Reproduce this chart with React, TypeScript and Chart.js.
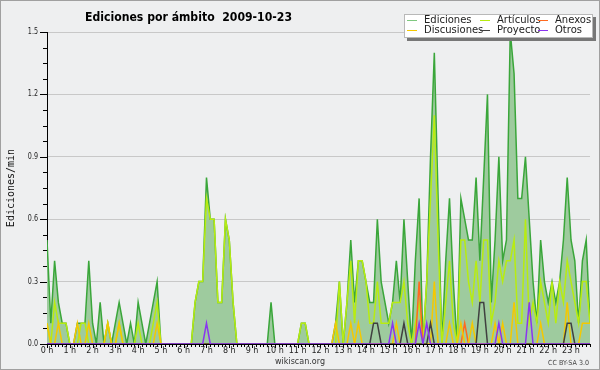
import React, { useEffect, useRef } from "react";
import { Chart, registerables } from "chart.js";

Chart.register(...registerables);

// 10-minute bins (0..143), values in edits per minute
const ediciones = [
  0.5, 0.1, 0.4, 0.2, 0.1, 0.1, 0, 0, 0.1, 0.1, 0.1, 0.4,
  0.1, 0, 0.2, 0, 0.1, 0, 0.1, 0.2, 0.1, 0, 0.1, 0,
  0.2, 0.1, 0, 0.1, 0.2, 0.3, 0, 0, 0, 0, 0, 0,
  0, 0, 0, 0.2, 0.3, 0.3, 0.8, 0.6, 0.6, 0.2, 0.2, 0.6,
  0.5, 0.2, 0, 0, 0, 0, 0, 0, 0, 0, 0, 0.2,
  0, 0, 0, 0, 0, 0, 0, 0.1, 0.1, 0, 0, 0,
  0, 0, 0, 0, 0.1, 0.3, 0, 0.2, 0.5, 0.2, 0.4, 0.4,
  0.3, 0.2, 0.2, 0.6, 0.3, 0.2, 0.1, 0.2, 0.4, 0.2, 0.6, 0.3,
  0, 0.4, 0.7, 0, 0.3, 0.9, 1.4, 0.7, 0, 0.4, 0.7, 0.3,
  0, 0.7, 0.6, 0.5, 0.5, 0.8, 0.4, 0.8, 1.2, 0.2, 0.5, 0.9,
  0.4, 0.5, 1.5, 1.3, 0.7, 0.7, 0.9, 0.6, 0.3, 0.1, 0.5, 0.3,
  0.2, 0.3, 0.2, 0.3, 0.5, 0.8, 0.5, 0.4, 0.1, 0.4, 0.5, 0.1,
];

const articulos = [
  0.1, 0, 0.2, 0.1, 0.1, 0.1, 0, 0, 0, 0.1, 0.1, 0,
  0, 0, 0, 0, 0.1, 0, 0, 0.1, 0, 0, 0, 0,
  0.1, 0, 0, 0, 0.1, 0.2, 0, 0, 0, 0, 0, 0,
  0, 0, 0, 0.2, 0.3, 0.3, 0.7, 0.6, 0.6, 0.2, 0.2, 0.6,
  0.5, 0.2, 0, 0, 0, 0, 0, 0, 0, 0, 0, 0,
  0, 0, 0, 0, 0, 0, 0, 0.1, 0.1, 0, 0, 0,
  0, 0, 0, 0, 0, 0.3, 0, 0.2, 0.4, 0.1, 0.4, 0.4,
  0.3, 0.1, 0.1, 0.3, 0.1, 0.1, 0.1, 0.2, 0.2, 0.2, 0.3, 0.1,
  0, 0.1, 0.2, 0, 0.3, 0.7, 1.1, 0.5, 0, 0.2, 0.4, 0.1,
  0, 0.5, 0.5, 0.3, 0.2, 0.4, 0.2, 0.5, 0.5, 0.1, 0.2, 0.4,
  0.3, 0.4, 0.4, 0.5, 0.1, 0.1, 0.6, 0.1, 0.2, 0.1, 0.3, 0.2,
  0.1, 0.3, 0.1, 0.3, 0.2, 0.4, 0.3, 0.2, 0.1, 0.3, 0.3, 0.1,
];

const anexos = [
  0, 0, 0, 0, 0, 0, 0, 0, 0, 0, 0, 0,
  0, 0, 0, 0, 0, 0, 0, 0, 0, 0, 0, 0,
  0, 0, 0, 0, 0, 0, 0, 0, 0, 0, 0, 0,
  0, 0, 0, 0, 0, 0, 0, 0, 0, 0, 0, 0,
  0, 0, 0, 0, 0, 0, 0, 0, 0, 0, 0, 0,
  0, 0, 0, 0, 0, 0, 0, 0, 0, 0, 0, 0,
  0, 0, 0, 0, 0, 0, 0, 0, 0, 0, 0, 0,
  0, 0, 0, 0, 0, 0, 0, 0, 0, 0, 0, 0,
  0, 0, 0.3, 0, 0, 0, 0, 0, 0, 0, 0, 0,
  0, 0, 0.1, 0, 0, 0, 0, 0, 0, 0, 0, 0,
  0, 0, 0, 0, 0, 0, 0, 0, 0, 0, 0, 0,
  0, 0, 0, 0, 0, 0, 0, 0, 0, 0, 0, 0,
];

const discusiones = [
  0.1, 0, 0, 0.1, 0, 0, 0, 0, 0.1, 0, 0, 0.1,
  0, 0, 0, 0, 0.1, 0, 0, 0.1, 0, 0, 0, 0,
  0, 0, 0, 0, 0, 0.1, 0, 0, 0, 0, 0, 0,
  0, 0, 0, 0, 0, 0, 0, 0, 0, 0, 0, 0,
  0, 0, 0, 0, 0, 0, 0, 0, 0, 0, 0, 0,
  0, 0, 0, 0, 0, 0, 0, 0, 0, 0, 0, 0,
  0, 0, 0, 0, 0.1, 0, 0, 0, 0.1, 0, 0.1, 0,
  0, 0, 0, 0, 0, 0, 0, 0, 0.1, 0, 0, 0,
  0, 0, 0, 0, 0, 0, 0.3, 0, 0, 0, 0.1, 0,
  0, 0.1, 0, 0, 0.1, 0, 0, 0, 0, 0, 0.1, 0,
  0.1, 0, 0, 0.2, 0, 0, 0, 0, 0, 0, 0.1, 0,
  0, 0, 0, 0, 0, 0.2, 0, 0, 0, 0.1, 0.1, 0.1,
];

const proyecto = [
  0, 0, 0, 0, 0, 0, 0, 0, 0, 0, 0, 0,
  0, 0, 0, 0, 0, 0, 0, 0, 0, 0, 0, 0,
  0, 0, 0, 0, 0, 0, 0, 0, 0, 0, 0, 0,
  0, 0, 0, 0, 0, 0, 0, 0, 0, 0, 0, 0,
  0, 0, 0, 0, 0, 0, 0, 0, 0, 0, 0, 0,
  0, 0, 0, 0, 0, 0, 0, 0, 0, 0, 0, 0,
  0, 0, 0, 0, 0, 0, 0, 0, 0, 0, 0, 0,
  0, 0, 0.1, 0.1, 0, 0, 0, 0, 0, 0, 0.1, 0,
  0, 0, 0, 0, 0, 0.1, 0, 0, 0, 0, 0, 0,
  0, 0, 0, 0, 0, 0, 0.2, 0.2, 0, 0, 0, 0,
  0, 0, 0, 0, 0, 0, 0, 0, 0, 0, 0, 0,
  0, 0, 0, 0, 0, 0.1, 0.1, 0, 0, 0, 0, 0,
];

const otros = [
  0, 0, 0, 0, 0, 0, 0, 0, 0, 0, 0, 0,
  0, 0, 0, 0, 0, 0, 0, 0, 0, 0, 0, 0,
  0, 0, 0, 0, 0, 0, 0, 0, 0, 0, 0, 0,
  0, 0, 0, 0, 0, 0, 0.1, 0, 0, 0, 0, 0,
  0, 0, 0, 0, 0, 0, 0, 0, 0, 0, 0, 0,
  0, 0, 0, 0, 0, 0, 0, 0, 0, 0, 0, 0,
  0, 0, 0, 0, 0, 0, 0, 0, 0, 0, 0, 0,
  0, 0, 0, 0, 0, 0, 0, 0.1, 0, 0, 0, 0,
  0, 0, 0.1, 0, 0.1, 0, 0, 0, 0, 0, 0, 0,
  0, 0, 0, 0, 0, 0, 0, 0, 0, 0, 0, 0.1,
  0, 0, 0, 0, 0, 0, 0, 0.2, 0, 0, 0, 0,
  0, 0, 0, 0, 0, 0, 0, 0, 0, 0, 0, 0,
];

const hourLabels = [
  "0 h", "1 h", "2 h", "3 h", "4 h", "5 h", "6 h", "7 h", "8 h", "9 h", "10 h", "11 h",
  "12 h", "13 h", "14 h", "15 h", "16 h", "17 h", "18 h", "19 h", "20 h", "21 h", "22 h", "23 h",
];
const yTickValues = [0, 0.3, 0.6, 0.9, 1.2, 1.5];
const yTickLabels = ["0.0", "0.3", "0.6", "0.9", "1.2", "1.5"];

const seriesNames = ["Ediciones", "Artículos", "Anexos", "Discusiones", "Proyecto", "Otros"];
const titleText = "Ediciones por ámbito  2009-10-23";
const yAxisTitle = "Ediciones/min";
const footerText = "wikiscan.org";
const licenseText = "CC BY-SA 3.0";

const BG = "#eeeff0";
const COLORS = {
  ediciones: "#3aa63a",
  edicionesFill: "#9ecb9e",
  articulos: "#b8ec10",
  anexos: "#ff6a20",
  discusiones: "#f5c800",
  proyecto: "#404040",
  otros: "#8a35f0",
};

const toPoints = (arr: number[]) => arr.map((v, i) => ({ x: i, y: v }));

const decorPlugin = {
  id: "decor",
  beforeDraw(chart: any) {
    const { ctx, width, height } = chart;
    ctx.save();
    ctx.fillStyle = BG;
    ctx.fillRect(0, 0, width, height);
    ctx.strokeStyle = "#a0a0a0";
    ctx.lineWidth = 1;
    ctx.strokeRect(0.5, 0.5, width - 1, height - 1);
    ctx.restore();
  },
  afterDraw(chart: any) {
    const { ctx } = chart;
    const xs = chart.scales.x;
    const ys = chart.scales.y;
    const area = chart.chartArea;
    const nPts = ediciones.length;
    ctx.save();

    // tick marks
    ctx.strokeStyle = "#000";
    ctx.lineWidth = 1;
    ctx.beginPath();
    for (let i = 0; i < nPts; i++) {
      const px = Math.round(xs.getPixelForValue(i)) + 0.5;
      const len = i % 6 === 0 ? 4 : 3;
      ctx.moveTo(px, area.bottom);
      ctx.lineTo(px, area.bottom + len);
    }
    for (let k = 0; k <= 20; k++) {
      const py = Math.round(ys.getPixelForValue(k * 0.075)) + 0.5;
      const major = k % 4 === 0;
      ctx.moveTo(area.left - (major ? 7 : 4), py);
      ctx.lineTo(area.left, py);
    }
    ctx.stroke();

    // x tick labels
    ctx.fillStyle = "#222";
    ctx.font = '8px "DejaVu Sans"';
    ctx.textAlign = "center";
    ctx.textBaseline = "middle";
    hourLabels.forEach((lab, h) => {
      const px = xs.getPixelForValue(h * 6);
      ctx.fillText(lab, px, area.bottom + 7);
    });

    // y tick labels
    ctx.textAlign = "right";
    yTickValues.forEach((v, k) => {
      const py = ys.getPixelForValue(v);
      const w = ctx.measureText(yTickLabels[k]).width;
      ctx.fillText(yTickLabels[k], area.left - 9, py, w * 0.8);
    });

    // y axis title
    ctx.save();
    ctx.translate(14, (area.top + area.bottom) / 2);
    ctx.rotate(-Math.PI / 2);
    ctx.font = '10px "DejaVu Sans Mono"';
    ctx.textAlign = "center";
    ctx.textBaseline = "alphabetic";
    ctx.fillStyle = "#111";
    ctx.fillText(yAxisTitle, 0, 0);
    ctx.restore();

    // title
    ctx.font = 'bold 12px "DejaVu Sans"';
    ctx.textAlign = "left";
    ctx.textBaseline = "alphabetic";
    ctx.fillStyle = "#000";
    ctx.fillText(titleText, 85, 20.5, 207);

    // footer
    ctx.font = '9px "DejaVu Sans"';
    ctx.textAlign = "center";
    ctx.textBaseline = "middle";
    ctx.fillStyle = "#333";
    ctx.fillText(footerText, 300, 362, 50);
    ctx.font = '7px "DejaVu Sans"';
    ctx.textAlign = "right";
    ctx.fillStyle = "#444";
    ctx.fillText(licenseText, 589, 363, 41);

    // legend
    const bx = 404, by = 14, bw = 189, bh = 24;
    ctx.fillStyle = "#777";
    ctx.fillRect(bx + 3, by + 3, bw, bh);
    ctx.fillStyle = "#fff";
    ctx.fillRect(bx, by, bw, bh);
    ctx.strokeStyle = "#b8b8b8";
    ctx.strokeRect(bx + 0.5, by + 0.5, bw - 1, bh - 1);
    const colX = [407, 480, 538];
    const rowY = [20, 29.5];
    const order = [0, 1, 2, 3, 4, 5];
    ctx.font = '10px "DejaVu Sans"';
    ctx.textAlign = "left";
    ctx.textBaseline = "middle";
    order.forEach((dsIdx, k) => {
      const ds = chart.data.datasets.find((d: any) => d.label === seriesNames[dsIdx]);
      const col = k % 3;
      const row = Math.floor(k / 3);
      const x = colX[col];
      const y = rowY[row];
      ctx.strokeStyle = ds.legendColor || ds.borderColor;
      ctx.lineWidth = 1;
      ctx.beginPath();
      ctx.moveTo(x, Math.round(y) + 0.5);
      ctx.lineTo(x + 10, Math.round(y) + 0.5);
      ctx.stroke();
      ctx.fillStyle = "#222";
      ctx.fillText(seriesNames[dsIdx], x + 17, y + 0.5);
    });

    ctx.restore();
  },
};

export default function App() {
  const canvasRef = useRef<HTMLCanvasElement | null>(null);

  useEffect(() => {
    document.body.style.margin = "0";
    const canvas = canvasRef.current;
    if (!canvas) return;
    const lineDs = (label: string, data: number[], color: string, order: number) => ({
      label,
      data: toPoints(data),
      borderColor: color,
      backgroundColor: color,
      borderWidth: 1.5,
      pointRadius: 0,
      tension: 0,
      fill: false,
      order,
    });
    const chart = new Chart(canvas, {
      type: "line",
      data: {
        datasets: [
          {
            label: seriesNames[0],
            data: toPoints(ediciones),
            borderColor: COLORS.ediciones,
            backgroundColor: COLORS.edicionesFill,
            legendColor: "#7fc87f",
            borderWidth: 1.5,
            pointRadius: 0,
            tension: 0,
            fill: "origin",
            order: 10,
          } as any,
          lineDs(seriesNames[1], articulos, COLORS.articulos, 5),
          lineDs(seriesNames[2], anexos, COLORS.anexos, 4),
          lineDs(seriesNames[3], discusiones, COLORS.discusiones, 3),
          lineDs(seriesNames[4], proyecto, COLORS.proyecto, 2),
          lineDs(seriesNames[5], otros, COLORS.otros, 1),
        ],
      },
      options: {
        animation: false,
        responsive: false,
        devicePixelRatio: 1,
        layout: { padding: { left: 47, right: 10, top: 32, bottom: 26 } },
        plugins: {
          legend: { display: false },
          title: { display: false },
          tooltip: { enabled: false },
        },
        scales: {
          x: {
            type: "linear",
            min: 0,
            max: ediciones.length - 1,
            ticks: { display: false, stepSize: 6 },
            grid: { display: false, drawTicks: false },
            border: { display: true, color: "#000", width: 1 },
            afterFit: (s: any) => { s.height = 0; },
          },
          y: {
            min: 0,
            max: 1.5,
            ticks: { display: false, stepSize: 0.3 },
            grid: {
              drawTicks: false,
              color: (c: any) => (c.tick && c.tick.value > 0 ? "#c8c8c8" : "rgba(0,0,0,0)"),
              lineWidth: 1,
            },
            border: { display: true, color: "#000", width: 1 },
            afterFit: (s: any) => { s.width = 0; },
          },
        },
      },
      plugins: [decorPlugin],
    } as any);
    return () => chart.destroy();
  }, []);

  return (
    <div style={{ width: 600, height: 370, position: "relative" }}>
      <canvas ref={canvasRef} width={600} height={370} style={{ display: "block" }} />
    </div>
  );
}
